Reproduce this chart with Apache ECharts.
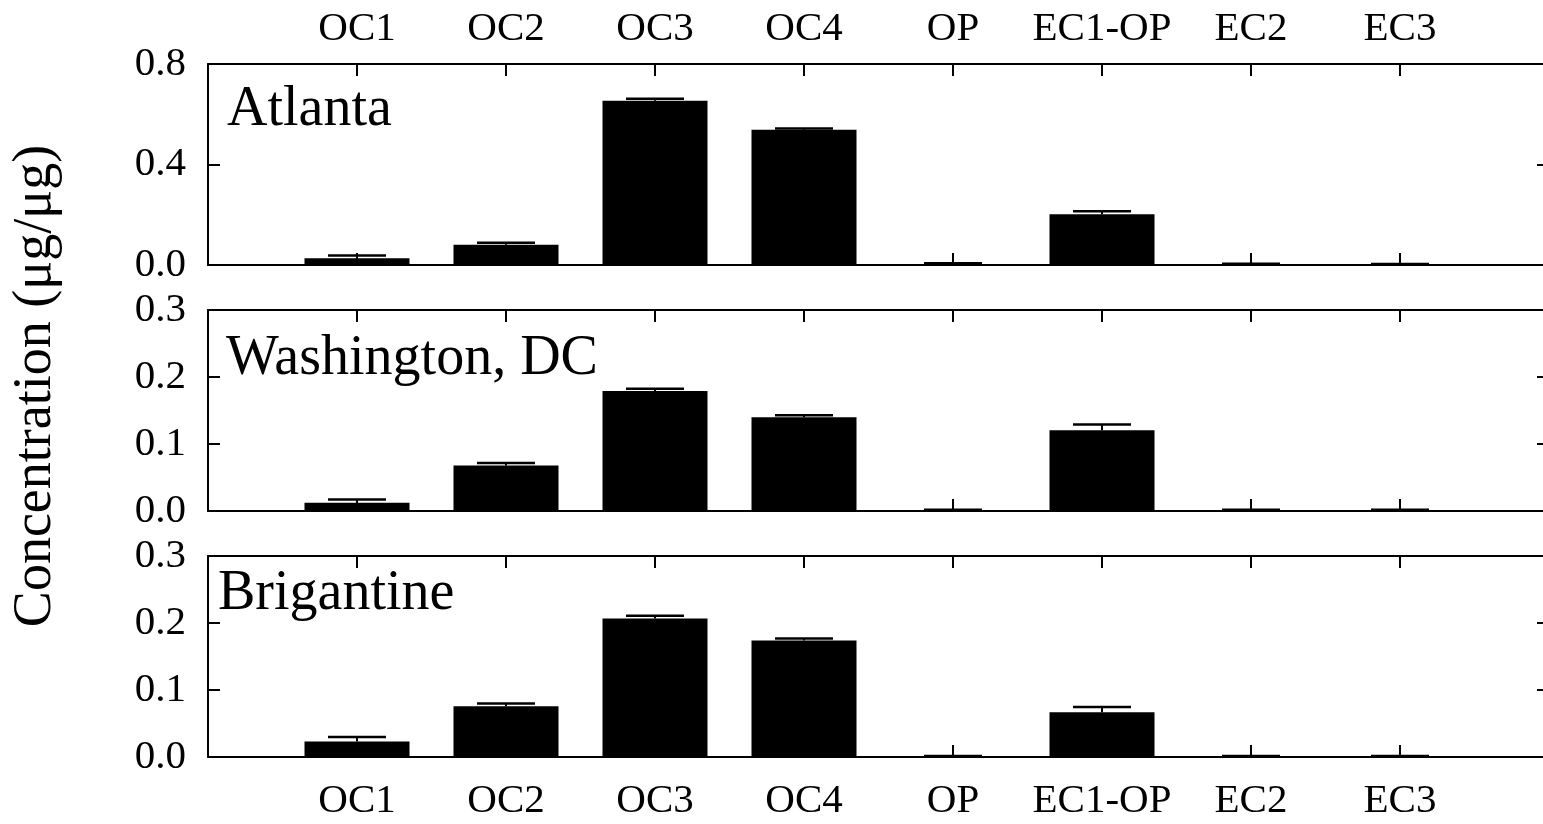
<!DOCTYPE html>
<html>
<head>
<meta charset="utf-8">
<script src="https://cdn.jsdelivr.net/npm/echarts@6/dist/echarts.min.js"></script>
<style>
html,body{margin:0;padding:0;background:#fff;}
#chart{width:1543px;height:824px;}
</style>
</head>
<body>
<div id="chart"></div>
<script>
// ---- data ----
const categories = ['OC1', 'OC2', 'OC3', 'OC4', 'OP', 'EC1-OP', 'EC2', 'EC3'];
const sites = ['Atlanta', 'Washington, DC', 'Brigantine'];
const atlantaValues = [0.027, 0.081, 0.654, 0.538, 0.003, 0.202, 0.003, 0.002];
const atlantaErrors = [0.011, 0.008, 0.008, 0.005, 0.004, 0.012, 0.002, 0.002];
const washingtonValues = [0.0125, 0.068, 0.179, 0.140, 0.001, 0.1205, 0.001, 0.001];
const washingtonErrors = [0.0045, 0.0035, 0.0035, 0.003, 0.0008, 0.0085, 0.0008, 0.0008];
const brigantineValues = [0.023, 0.0757, 0.2066, 0.1737, 0.001, 0.0667, 0.001, 0.001];
const brigantineErrors = [0.007, 0.0043, 0.0044, 0.003, 0.0005, 0.008, 0.0005, 0.0005];
const yMax = [0.8, 0.3, 0.3];
const yInterval = [0.4, 0.1, 0.1];
const yTitle = 'Concentration (μg/μg)';

const valueSets = [atlantaValues, washingtonValues, brigantineValues];
const errorSets = [atlantaErrors, washingtonErrors, brigantineErrors];

// ---- layout / style ----
const FONT = '"Liberation Serif", "Times New Roman", serif';
const grids = [
  { left: 208, width: 1341, top: 64, height: 201, outerBoundsMode: 'none', containLabel: false },
  { left: 208, width: 1341, top: 310, height: 201, outerBoundsMode: 'none', containLabel: false },
  { left: 208, width: 1341, top: 556, height: 201, outerBoundsMode: 'none', containLabel: false }
];
const lineStyle = { color: '#000', width: 2 };

const xAxes = [], yAxes = [], series = [];
grids.forEach((g, i) => {
  ['bottom', 'top'].forEach(pos => {
    const showLabel = (i === 0 && pos === 'top') || (i === 2 && pos === 'bottom');
    xAxes.push({
      type: 'value', gridIndex: i, position: pos, min: 0, max: 9, interval: 1,
      axisLine: { show: true, onZero: false, lineStyle },
      axisTick: { show: true, inside: true, length: 12, lineStyle },
      splitLine: { show: false },
      axisLabel: {
        show: showLabel, margin: pos === 'top' ? 14 : 24,
        fontFamily: FONT, fontSize: 41, color: '#000',
        formatter: v => categories[v - 1] || ''
      }
    });
  });
  ['left', 'right'].forEach(pos => {
    yAxes.push({
      type: 'value', gridIndex: i, position: pos, min: 0, max: yMax[i], interval: yInterval[i],
      axisLine: { show: true, onZero: false, lineStyle },
      axisTick: { show: true, inside: true, length: 12, lineStyle },
      splitLine: { show: false },
      axisLabel: {
        show: pos === 'left', margin: 22,
        fontFamily: FONT, fontSize: 41, color: '#000',
        formatter: v => v.toFixed(1)
      }
    });
  });
  const vals = valueSets[i], errs = errorSets[i];
  series.push({
    type: 'bar', xAxisIndex: 2 * i, yAxisIndex: 2 * i,
    barWidth: 105,
    itemStyle: { color: '#000' },
    data: vals.map((v, k) => [k + 1, v]),
    z: 3
  });
  series.push({
    type: 'custom', xAxisIndex: 2 * i, yAxisIndex: 2 * i,
    data: vals.map((v, k) => [k + 1, v, v + errs[k]]),
    z: 4,
    renderItem: (params, api) => {
      const x = api.value(0);
      const p0 = api.coord([x, api.value(1)]);
      const p1 = api.coord([x, api.value(2)]);
      const hw = 29;
      return {
        type: 'group',
        children: [
          { type: 'line', shape: { x1: p0[0], y1: p0[1], x2: p1[0], y2: p1[1] },
            style: { stroke: '#000', lineWidth: 2 } },
          { type: 'line', shape: { x1: p1[0] - hw, y1: p1[1], x2: p1[0] + hw, y2: p1[1] },
            style: { stroke: '#000', lineWidth: 2.5 } }
        ]
      };
    }
  });
});

const labelPos = [[227, 110], [226, 359], [218, 594]];
const graphics = sites.map((s, i) => ({
  type: 'text', x: labelPos[i][0], y: labelPos[i][1], z: 10,
  style: { text: s, font: '56px ' + FONT, fill: '#000', textAlign: 'left', textVerticalAlign: 'middle' }
}));
graphics.push({
  type: 'text', x: 36, y: 386, rotation: Math.PI / 2, z: 10,
  style: { text: yTitle, font: '54px ' + FONT, fill: '#000', textAlign: 'center', textVerticalAlign: 'middle' }
});

const chart = echarts.init(document.getElementById('chart'), null, { renderer: 'canvas' });
chart.setOption({
  animation: false,
  backgroundColor: '#fff',
  grid: grids,
  xAxis: xAxes,
  yAxis: yAxes,
  series: series,
  graphic: graphics
});
</script>
</body>
</html>
